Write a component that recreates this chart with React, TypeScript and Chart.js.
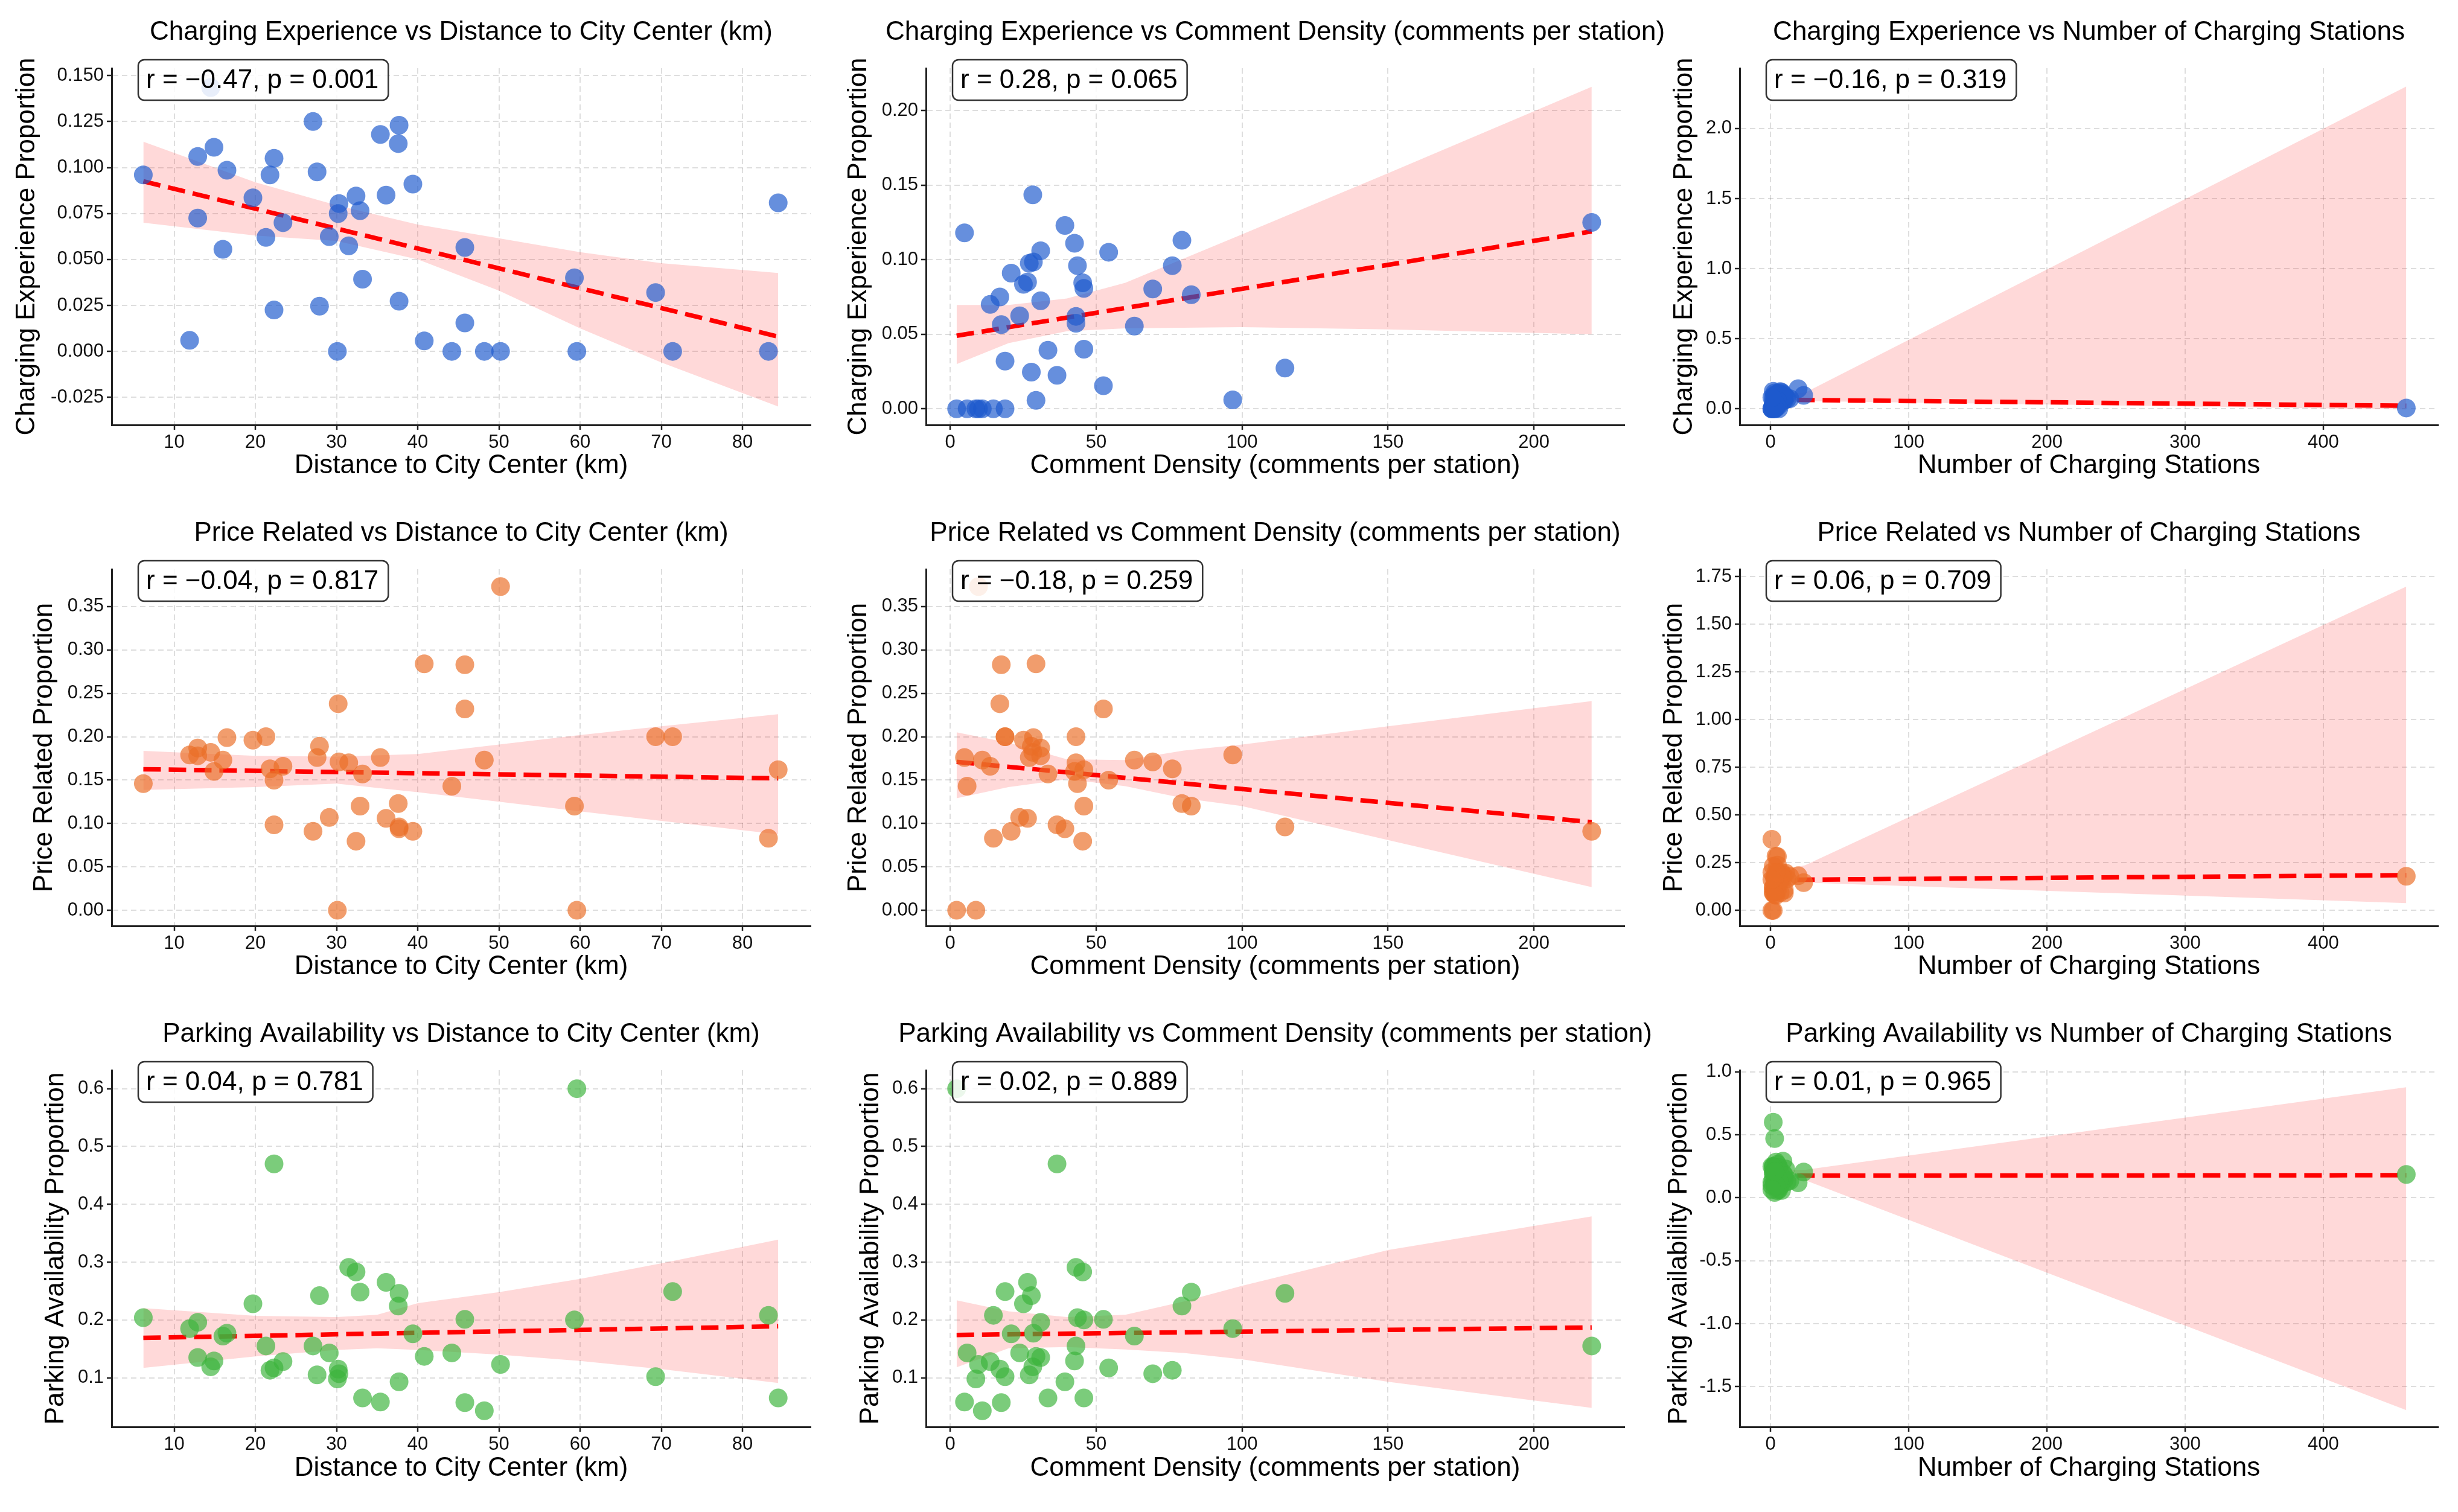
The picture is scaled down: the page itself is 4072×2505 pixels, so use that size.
import { useEffect, useRef } from "react";
import Chart from "chart.js/auto";

// One entry per district (same order in every array)
const distanceKm = [
  6.2, 11.9, 12.9, 12.9, 14.5, 14.9, 16.0, 16.5, 19.7, 21.3, 21.8, 22.3, 22.3,
  23.4, 27.1, 27.6, 27.9, 29.1, 30.1, 30.2, 30.3, 31.5, 32.4, 32.9, 33.2, 35.4,
  36.1, 37.6, 37.7, 37.7, 39.4, 40.8, 44.2, 45.8, 45.8, 48.2, 50.2, 59.3, 59.6,
  69.3, 71.4, 83.2, 84.4,
];
const commentDensity = [
  43.6, 96.8, 31.0, 31.0, 28.3, 42.6, 63.1, 28.5, 25.1, 43.1, 76.1, 54.3, 36.6,
  13.7, 219.8, 27.1, 27.8, 23.8, 8.8, 17.0, 69.4, 43.1, 45.4, 82.6, 33.5, 4.9,
  26.5, 79.4, 39.3, 114.7, 20.9, 29.4, 5.8, 52.5, 17.5, 11.0, 9.7, 45.8, 2.2,
  18.8, 18.8, 14.8, 45.8,
];
const stationCount = [
  24, 460, 9, 14, 20, 6, 4, 8, 11, 5, 3, 4, 3, 12, 2, 7, 6, 10, 1, 5, 3, 9, 4, 2,
  6, 8, 5, 3, 7, 2, 10, 4, 6, 2, 5, 3, 1, 2, 2, 4, 1, 3, 1,
];
const chargingShare = [
  0.096, 0.006, 0.106, 0.0725, 0.1435, 0.111, 0.0555, 0.0985, 0.0835, 0.062,
  0.096, 0.105, 0.0225, 0.07, 0.125, 0.0976, 0.0246, 0.0624, 0, 0.075, 0.0804,
  0.0574, 0.0845, 0.0765, 0.0393, 0.118, 0.085, 0.113, 0.123, 0.0273, 0.091,
  0.0057, 0, 0.0155, 0.0565, 0, 0, 0.04, 0, 0.032, 0, 0, 0.0808,
];
const priceShare = [
  0.146, 0.179, 0.187, 0.178, 0.182, 0.16, 0.173, 0.199, 0.196, 0.2, 0.163, 0.15,
  0.0985, 0.166, 0.091, 0.176, 0.189, 0.107, 0, 0.238, 0.171, 0.17, 0.0796, 0.12,
  0.157, 0.176, 0.106, 0.123, 0.094, 0.096, 0.091, 0.284, 0.143, 0.232, 0.283,
  0.173, 0.373, 0.12, 0, 0.2, 0.2, 0.083, 0.162,
];
const parkingShare = [
  0.204, 0.185, 0.196, 0.135, 0.119, 0.129, 0.172, 0.177, 0.228, 0.155, 0.113,
  0.117, 0.47, 0.128, 0.155, 0.105, 0.242, 0.143, 0.098, 0.115, 0.107, 0.291,
  0.283, 0.248, 0.065, 0.058, 0.265, 0.224, 0.093, 0.246, 0.176, 0.137, 0.143,
  0.201, 0.057, 0.043, 0.123, 0.2, 0.6, 0.102, 0.249, 0.208, 0.065,
];

// regression lines (start, end) and confidence bands [x, low, high] as drawn
const ceDistFit = [[6.2, 0.0925], [84.4, 0.008]];
const ceDensFit = [[2.2, 0.049], [219.8, 0.119]];
const ceCountFit = [[1, 0.065], [460, 0.022]];
const prDistFit = [[6.2, 0.1625], [84.4, 0.152]];
const prDensFit = [[2.2, 0.171], [219.8, 0.1015]];
const prCountFit = [[1, 0.16], [460, 0.185]];
const paDistFit = [[6.2, 0.169], [84.4, 0.189]];
const paDensFit = [[2.2, 0.174], [219.8, 0.187]];
const paCountFit = [[1, 0.175], [460, 0.179]];

const ceDistBand = [
  [6.2, 0.07, 0.114], [20, 0.063, 0.092], [30, 0.06, 0.0795], [40, 0.05, 0.069],
  [50, 0.033, 0.0615], [60, 0.0125, 0.054], [70, -0.006, 0.048], [84.4, -0.03, 0.0426],
];
const ceDensBand = [
  [2.2, 0.03, 0.0696], [20, 0.044, 0.0696], [40, 0.052, 0.074], [60, 0.054, 0.0845],
  [100, 0.0548, 0.117], [150, 0.0533, 0.158], [219.8, 0.05, 0.216],
];
const ceCountBand = [[1, 0.035, 0.095], [25, 0.055, 0.115], [460, -0.005, 2.3]];
const prDistBand = [
  [6.2, 0.1387, 0.1836], [20, 0.142, 0.178], [30, 0.146, 0.177], [40, 0.136, 0.18],
  [50, 0.125, 0.191], [60, 0.114, 0.202], [70, 0.103, 0.212], [84.4, 0.0876, 0.226],
];
const prDensBand = [
  [2.2, 0.129, 0.205], [20, 0.142, 0.193], [40, 0.151, 0.174], [60, 0.143, 0.173],
  [80, 0.129, 0.184], [100, 0.12, 0.191], [150, 0.081, 0.212], [219.8, 0.0266, 0.241],
];
const prCountBand = [[1, 0.13, 0.2], [25, 0.146, 0.237], [460, 0.038, 1.697]];
const paDistBand = [
  [6.2, 0.117, 0.2205], [20, 0.137, 0.207], [30, 0.148, 0.205], [35, 0.151, 0.209],
  [40, 0.148, 0.229], [50, 0.14, 0.248], [60, 0.129, 0.271], [70, 0.115, 0.298],
  [84.4, 0.091, 0.339],
];
const paDensBand = [
  [2.2, 0.118, 0.234], [20, 0.151, 0.215], [40, 0.153, 0.205], [60, 0.149, 0.209],
  [80, 0.143, 0.232], [100, 0.132, 0.259], [150, 0.093, 0.321], [219.8, 0.048, 0.379],
];
const paCountBand = [[1, 0.13, 0.22], [25, 0.14, 0.222], [460, -1.686, 0.878]];

// tick labels
const distTicks = [10, 20, 30, 40, 50, 60, 70, 80];
const densTicks = [0, 50, 100, 150, 200];
const countTicks = [0, 100, 200, 300, 400];
const ceDistTicks = [-0.025, 0, 0.025, 0.05, 0.075, 0.1, 0.125, 0.15];
const ceDensTicks = [0, 0.05, 0.1, 0.15, 0.2];
const ceCountTicks = [0, 0.5, 1, 1.5, 2];
const priceTicks = [0, 0.05, 0.1, 0.15, 0.2, 0.25, 0.3, 0.35];
const prCountTicks = [0, 0.25, 0.5, 0.75, 1, 1.25, 1.5, 1.75];
const parkTicks = [0.1, 0.2, 0.3, 0.4, 0.5, 0.6];
const paCountTicks = [-1.5, -1, -0.5, 0, 0.5, 1];

const FONT = '"Liberation Sans", Arial, Helvetica, sans-serif';
const BLUE = "rgba(30, 90, 205, 0.68)";
const ORANGE = "rgba(235, 110, 40, 0.68)";
const GREEN = "rgba(60, 180, 60, 0.68)";
const GRID = "rgba(0, 0, 0, 0.13)";

// columns: canvas start, plot left, plot right (page px); rows: canvas top, height
const COLS = [
  { start: 0, left: 185, right: 1343 },
  { start: 1360, left: 1534, right: 2691 },
  { start: 2720, left: 2882, right: 4039 },
];
const ROWS = [
  { start: 0, height: 830, xTitle: 772 },
  { start: 830, height: 830, xTitle: 772 },
  { start: 1660, height: 845, xTitle: 773 },
];
const PLOT_TOP = 113;
const PLOT_BOTTOM = 704;
const EXTRA_RIGHT = 170;

const xCols = [
  { label: "Distance to City Center (km)", xs: distanceKm, min: 2.3, max: 88.4, ticks: distTicks },
  { label: "Comment Density (comments per station)", xs: commentDensity, min: -8.3, max: 231, ticks: densTicks },
  { label: "Number of Charging Stations", xs: stationCount, min: -22.3, max: 483, ticks: countTicks },
];

const panels = [
  { row: 0, col: 0, name: "Charging Experience", ys: chargingShare, color: BLUE, fit: ceDistFit, band: ceDistBand, stat: "r = \u22120.47, p = 0.001", yMin: -0.04, yMax: 0.154, yTicks: ceDistTicks, digits: 3, yTitleX: 45 },
  { row: 0, col: 1, name: "Charging Experience", ys: chargingShare, color: BLUE, fit: ceDensFit, band: ceDensBand, stat: "r = 0.28, p = 0.065", yMin: -0.0108, yMax: 0.2284, yTicks: ceDensTicks, digits: 2, yTitleX: 63 },
  { row: 0, col: 2, name: "Charging Experience", ys: chargingShare, color: BLUE, fit: ceCountFit, band: ceCountBand, stat: "r = \u22120.16, p = 0.319", yMin: -0.115, yMax: 2.43, yTicks: ceCountTicks, digits: 1, yTitleX: 71 },
  { row: 1, col: 0, name: "Price Related", ys: priceShare, color: ORANGE, fit: prDistFit, band: prDistBand, stat: "r = \u22120.04, p = 0.817", yMin: -0.018, yMax: 0.393, yTicks: priceTicks, digits: 2, yTitleX: 74 },
  { row: 1, col: 1, name: "Price Related", ys: priceShare, color: ORANGE, fit: prDensFit, band: prDensBand, stat: "r = \u22120.18, p = 0.259", yMin: -0.018, yMax: 0.393, yTicks: priceTicks, digits: 2, yTitleX: 63 },
  { row: 1, col: 2, name: "Price Related", ys: priceShare, color: ORANGE, fit: prCountFit, band: prCountBand, stat: "r = 0.06, p = 0.709", yMin: -0.081, yMax: 1.788, yTicks: prCountTicks, digits: 2, yTitleX: 54 },
  { row: 2, col: 0, name: "Parking Availability", ys: parkingShare, color: GREEN, fit: paDistFit, band: paDistBand, stat: "r = 0.04, p = 0.781", yMin: 0.015, yMax: 0.632, yTicks: parkTicks, digits: 1, yTitleX: 93 },
  { row: 2, col: 1, name: "Parking Availability", ys: parkingShare, color: GREEN, fit: paDensFit, band: paDensBand, stat: "r = 0.02, p = 0.889", yMin: 0.015, yMax: 0.632, yTicks: parkTicks, digits: 1, yTitleX: 83 },
  { row: 2, col: 2, name: "Parking Availability", ys: parkingShare, color: GREEN, fit: paCountFit, band: paCountBand, stat: "r = 0.01, p = 0.965", yMin: -1.819, yMax: 1.013, yTicks: paCountTicks, digits: 1, yTitleX: 62 },
];

// title over the plot area + the r/p box in the upper left
const decorPlugin = {
  id: "decor",
  afterDraw(chart, _args, opts) {
    const { ctx, chartArea } = chart;
    ctx.save();
    ctx.font = `44px ${FONT}`;
    ctx.fillStyle = "#000";
    ctx.textAlign = "center";
    ctx.textBaseline = "middle";
    ctx.fillText(opts.title, (chartArea.left + chartArea.right) / 2, 54);

    const textW = ctx.measureText(opts.stat).width;
    const bx = chartArea.left + 44;
    const by = chartArea.top - 14;
    const bw = textW + 29;
    const bh = 67;
    ctx.beginPath();
    ctx.roundRect(bx, by, bw, bh, 10);
    ctx.fillStyle = "rgba(255, 255, 255, 0.85)";
    ctx.fill();
    ctx.lineWidth = 2.5;
    ctx.strokeStyle = "#333";
    ctx.stroke();
    ctx.fillStyle = "#000";
    ctx.textAlign = "left";
    ctx.fillText(opts.stat, bx + 13, by + bh / 2 + 1);
    ctx.restore();
  },
};

const PanelChart = ({ panel }) => {
  const canvasRef = useRef(null);
  const col = COLS[panel.col];
  const row = ROWS[panel.row];
  const xc = xCols[panel.col];
  const width = col.right - col.start + EXTRA_RIGHT;
  const height = row.height;

  useEffect(() => {
    if (!canvasRef.current) return;
    const points = xc.xs.map((x, i) => ({ x, y: panel.ys[i] }));
    const fit = panel.fit.map(([x, y]) => ({ x, y }));
    const hi = panel.band.map(([x, , h]) => ({ x, y: h }));
    const lo = panel.band.map(([x, l]) => ({ x, y: l }));

    const gridOpts = {
      color: GRID,
      lineWidth: 2,
      tickColor: "#222",
      tickLength: 8,
      tickWidth: 2.5,
      tickBorderDash: [],
    };
    const borderOpts = { display: true, color: "#222", width: 3, dash: [9, 6] };
    const tickFont = { size: 31, family: FONT };
    const titleFont = { size: 44, family: FONT };

    const chart = new Chart(canvasRef.current, {
      type: "scatter",
      data: {
        datasets: [
          {
            type: "scatter",
            data: points,
            backgroundColor: panel.color,
            borderWidth: 0,
            pointRadius: 15.5,
            order: 0,
          },
          {
            type: "line",
            data: fit,
            borderColor: "#ff0000",
            borderWidth: 7.5,
            borderDash: [29, 13],
            pointRadius: 0,
            fill: false,
            tension: 0,
            order: 1,
          },
          {
            type: "line",
            data: hi,
            borderColor: "transparent",
            borderWidth: 0,
            backgroundColor: "rgba(255, 0, 0, 0.15)",
            pointRadius: 0,
            fill: "+1",
            tension: 0,
            order: 2,
          },
          {
            type: "line",
            data: lo,
            borderColor: "transparent",
            borderWidth: 0,
            pointRadius: 0,
            fill: false,
            tension: 0,
            order: 3,
          },
        ],
      },
      options: {
        responsive: false,
        animation: false,
        events: [],
        layout: { padding: { top: PLOT_TOP, left: 0, right: EXTRA_RIGHT, bottom: 0 } },
        plugins: {
          legend: { display: false },
          tooltip: { enabled: false },
          title: { display: false },
          decor: { title: `${panel.name} vs ${xc.label}`, stat: panel.stat },
        },
        scales: {
          x: {
            type: "linear",
            position: "bottom",
            min: xc.min,
            max: xc.max,
            afterBuildTicks: (s) => {
              s.ticks = xc.ticks.map((v) => ({ value: v }));
            },
            afterFit: (s) => {
              s.height = row.height - PLOT_BOTTOM;
            },
            ticks: { font: tickFont, color: "#111", padding: 3, callback: (v) => String(v) },
            grid: gridOpts,
            border: borderOpts,
            title: {
              display: true,
              text: xc.label,
              font: titleFont,
              color: "#000",
              padding: { top: 0, bottom: row.height - row.xTitle - 26.4 },
            },
          },
          y: {
            type: "linear",
            min: panel.yMin,
            max: panel.yMax,
            afterBuildTicks: (s) => {
              s.ticks = panel.yTicks.map((v) => ({ value: v }));
            },
            afterFit: (s) => {
              s.width = col.left - col.start;
            },
            ticks: {
              font: tickFont,
              color: "#111",
              padding: 5,
              callback: (v) => Number(v).toFixed(panel.digits),
            },
            grid: gridOpts,
            border: borderOpts,
            title: {
              display: true,
              text: `${panel.name} Proportion`,
              font: titleFont,
              color: "#000",
              padding: { top: panel.yTitleX - 26.4, bottom: 0 },
            },
          },
        },
      },
      plugins: [decorPlugin],
    });

    return () => {
      chart.destroy();
    };
  }, [panel]);

  return (
    <canvas
      ref={canvasRef}
      width={width}
      height={height}
      style={{ position: "absolute", left: col.start, top: row.start, width, height }}
    />
  );
};

export default function App() {
  return (
    <div
      style={{
        position: "fixed",
        left: 0,
        top: 0,
        width: 4072,
        height: 2505,
        background: "#fff",
        overflow: "hidden",
      }}
    >
      {panels.map((p, i) => (
        <PanelChart key={i} panel={p} />
      ))}
    </div>
  );
}
